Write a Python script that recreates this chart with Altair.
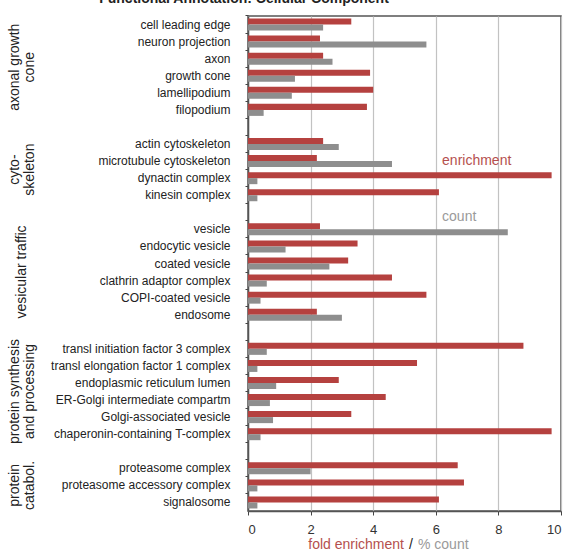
import altair as alt
import pandas as pd

# ---- data ----
group_labels = ["axonal growth\ncone", "cyto-\nskeleton", "vesicular traffic",
                "protein synthesis\nand processing", "protein\ncatabol."]

terms_axonal = ["cell leading edge", "neuron projection", "axon", "growth cone",
                "lamellipodium", "filopodium"]
enr_axonal = [3.3, 2.3, 2.4, 3.9, 4.0, 3.8]
cnt_axonal = [2.4, 5.7, 2.7, 1.5, 1.4, 0.5]

terms_cyto = ["actin cytoskeleton", "microtubule cytoskeleton", "dynactin complex",
              "kinesin complex"]
enr_cyto = [2.4, 2.2, 9.7, 6.1]
cnt_cyto = [2.9, 4.6, 0.3, 0.3]

terms_vesic = ["vesicle", "endocytic vesicle", "coated vesicle", "clathrin adaptor complex",
               "COPI-coated vesicle", "endosome"]
enr_vesic = [2.3, 3.5, 3.2, 4.6, 5.7, 2.2]
cnt_vesic = [8.3, 1.2, 2.6, 0.6, 0.4, 3.0]

terms_synth = ["transl initiation factor 3 complex", "transl elongation factor 1 complex",
               "endoplasmic reticulum lumen", "ER-Golgi intermediate compartm",
               "Golgi-associated vesicle", "chaperonin-containing T-complex"]
enr_synth = [8.8, 5.4, 2.9, 4.4, 3.3, 9.7]
cnt_synth = [0.6, 0.3, 0.9, 0.7, 0.8, 0.4]

terms_catab = ["proteasome complex", "proteasome accessory complex", "signalosome"]
enr_catab = [6.7, 6.9, 6.1]
cnt_catab = [2.0, 0.3, 0.3]

x_ticks = [0, 2, 4, 6, 8, 10]
series_names = ["enrichment", "count"]

# ---- build tables ----
group_terms = [terms_axonal, terms_cyto, terms_vesic, terms_synth, terms_catab]
group_enr = [enr_axonal, enr_cyto, enr_vesic, enr_synth, enr_catab]
group_cnt = [cnt_axonal, cnt_cyto, cnt_vesic, cnt_synth, cnt_catab]

rows = []
records = []
group_pos = []  # (label, middle row, needs half-step shift)
for gi, (terms, enr, cnt) in enumerate(zip(group_terms, group_enr, group_cnt)):
    if gi > 0:
        rows.append(f"__gap{gi}")
    start = len(rows)
    for t, e, c in zip(terms, enr, cnt):
        rows.append(t)
        records.append({"row": t, "series": "enrichment", "value": e})
        records.append({"row": t, "series": "count", "value": c})
    n = len(terms)
    group_pos.append((group_labels[gi], rows[start + n // 2], n % 2 == 0))

df = pd.DataFrame(records)

W, H = 313, 495
step = H / len(rows)
FONT = "Liberation Sans"
RED = "#b5413f"
GRAY = "#8e8e8e"
LINE_H = 15

yscale = alt.Scale(domain=rows, paddingInner=0, paddingOuter=0)
xscale = alt.Scale(domain=[0, 10], nice=False)

bars = alt.Chart(df).mark_bar().encode(
    x=alt.X("value:Q", scale=xscale,
            axis=alt.Axis(values=x_ticks, grid=True, gridColor="#c2c2c2", gridWidth=1.2,
                          tickSize=4, tickColor="#444", labelFontSize=13, labelColor="#333",
                          labelPadding=8, title=None, domainColor="#555", domainWidth=1.5,
                          labelFont=FONT)),
    y=alt.Y("row:N", scale=yscale,
            axis=alt.Axis(title=None, bandPosition=0, tickSize=3,
                          tickColor="#444", labelPadding=15, labelFontSize=12,
                          labelColor="#222", labelFont=FONT, domainColor="#555",
                          domainWidth=1.5, grid=False, labelLimit=300,
                          labelExpr="indexof(datum.value, '__gap') == 0 ? '' : datum.value")),
    yOffset=alt.YOffset("series:N", sort=series_names,
                        scale=alt.Scale(domain=series_names, paddingInner=0, paddingOuter=0.42)),
    color=alt.Color("series:N", scale=alt.Scale(domain=series_names, range=[RED, GRAY]),
                    legend=None),
)

layers = [bars]

# group labels (rotated 270 deg: dx moves along the text = vertical, dy across = horizontal)
for label, mid_row, shift in group_pos:
    n_lines = label.count("\n") + 1
    gdf = pd.DataFrame({"row": [mid_row], "label": [label]})
    layers.append(
        alt.Chart(gdf).mark_text(angle=270, align="center", baseline="middle",
                                 lineBreak="\n", lineHeight=LINE_H, fontSize=14, font=FONT,
                                 color="#222",
                                 dx=(step / 2 if shift else 0),
                                 dy=-(n_lines - 1) * LINE_H / 2).encode(
            x=alt.value(-226),
            y=alt.Y("row:N", scale=yscale),
            text="label:N",
        )
    )

# in-plot annotations
ann_rows = ["microtubule cytoskeleton", "__gap2"]
ann_x = [6.2, 6.2]
ann_text = ["enrichment", "count"]
ann_colors = ["#b5504e", "#9a9a9a"]
ann_dy = [0, 5]
for r, xv, tx, col, dyv in zip(ann_rows, ann_x, ann_text, ann_colors, ann_dy):
    adf = pd.DataFrame({"row": [r], "pos": [xv], "label": [tx]})
    layers.append(
        alt.Chart(adf).mark_text(align="left", baseline="middle", fontSize=14,
                                 font=FONT, color=col, dy=dyv).encode(
            x=alt.X("pos:Q", scale=xscale),
            y=alt.Y("row:N", scale=yscale),
            text="label:N")
    )

# axis title in three colours
title_text = ["fold enrichment", "/", "% count"]
title_align = ["right", "center", "left"]
title_colors = ["#b5504e", "#222222", "#9a9a9a"]
title_x = [156, 163, 170]
for tx, al, col, xp in zip(title_text, title_align, title_colors, title_x):
    tdf = pd.DataFrame({"t": [tx]})
    layers.append(
        alt.Chart(tdf).mark_text(align=al, baseline="alphabetic", fontSize=14,
                                 font=FONT, color=col).encode(
            x=alt.value(xp), y=alt.value(H + 38), text="t:N")
    )

# chart title (cut off at the top in the reference)
ttl = pd.DataFrame({"t": ["Functional Annotation: Cellular Component"]})
layers.append(
    alt.Chart(ttl).mark_text(align="center", baseline="alphabetic", fontSize=14,
                             fontWeight="bold", font=FONT, color="#222").encode(
        x=alt.value(-4), y=alt.value(-13), text="t:N")
)

chart = alt.layer(*layers).properties(
    width=W, height=H,
    autosize=alt.AutoSizeParams(type="none"),
    padding={"left": 248, "top": 16, "right": 7, "bottom": 42},
).configure_view(stroke="#555", strokeWidth=1.5)

chart.save("out.html", embed_options={"renderer": "svg", "actions": False})
